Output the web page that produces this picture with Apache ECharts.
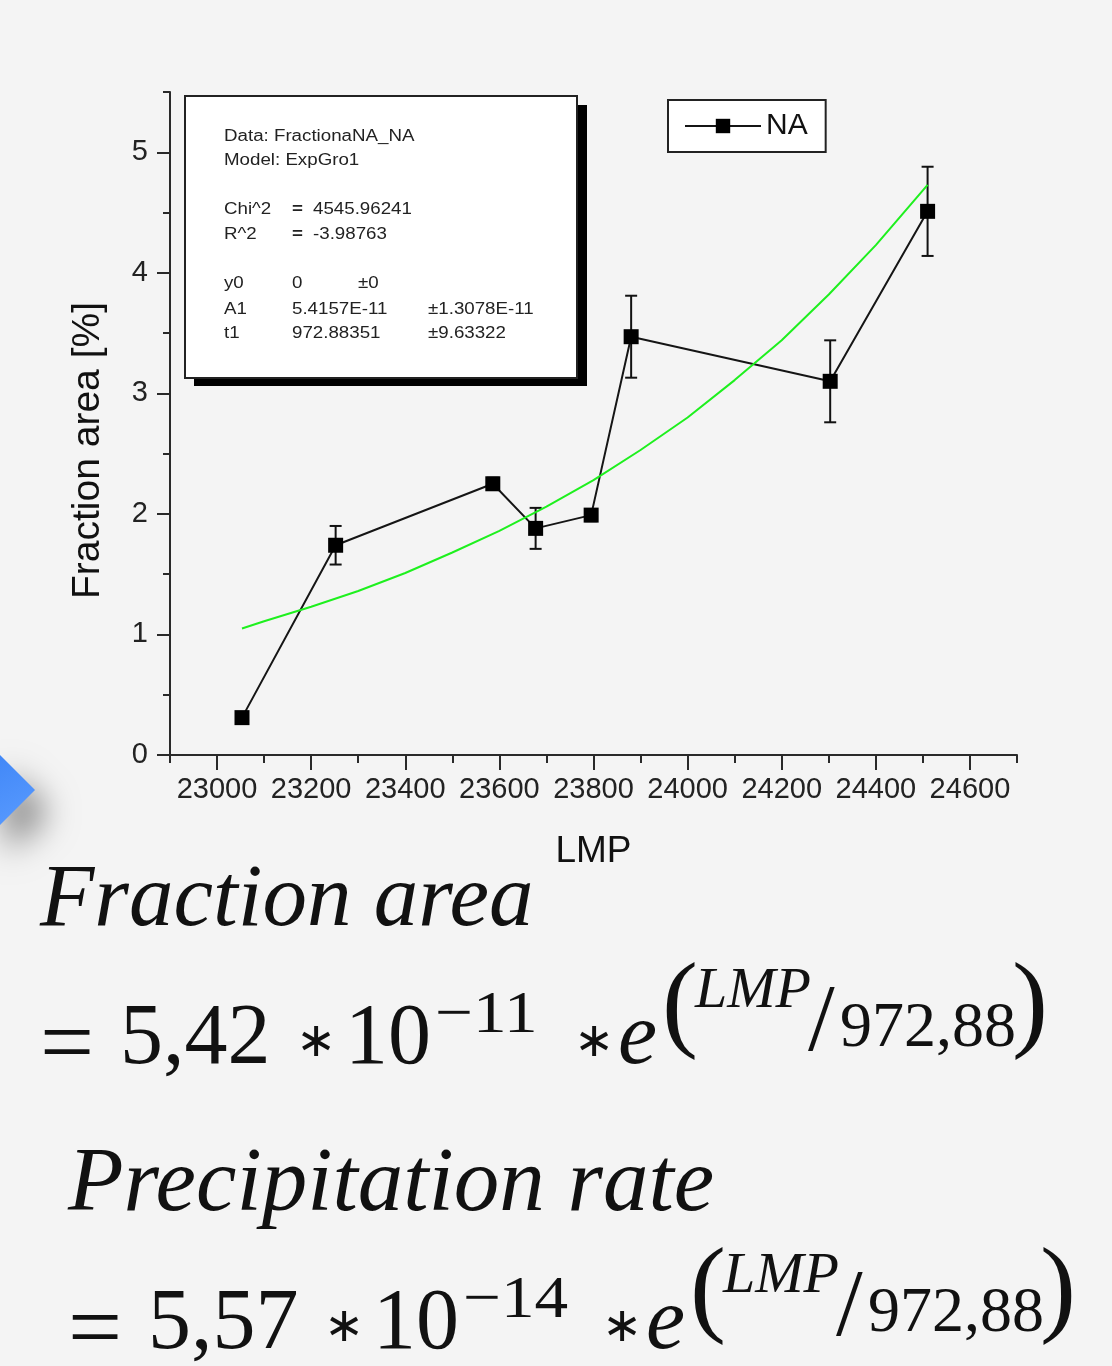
<!DOCTYPE html>
<html>
<head>
<meta charset="utf-8">
<script src="https://cdn.jsdelivr.net/npm/echarts@6/dist/echarts.min.js"></script>
<style>
  html, body { margin: 0; padding: 0; background: #f4f4f4; }
  #chart { width: 1112px; height: 1366px; }
</style>
</head>
<body>
<div id="chart"></div>
<script>
// ---- data ----
const lmp = [23053, 23252, 23586, 23677, 23795, 23880, 24303, 24510];
const fractionArea = [0.31, 1.74, 2.25, 1.88, 1.99, 3.47, 3.10, 4.51];
const fractionErr = [0.04, 0.16, 0.05, 0.17, 0.05, 0.34, 0.34, 0.37];
// green fitted curve
const fitLmp = [23053, 23100, 23200, 23300, 23400, 23500, 23600, 23700, 23800, 23900, 24000, 24100, 24200, 24300, 24400, 24510];
const fitFraction = [1.05, 1.11, 1.23, 1.36, 1.51, 1.68, 1.86, 2.06, 2.28, 2.53, 2.80, 3.11, 3.44, 3.82, 4.23, 4.73];
const xTickLabels = [23000, 23200, 23400, 23600, 23800, 24000, 24200, 24400, 24600];
const yTickLabels = [0, 1, 2, 3, 4, 5];
const seriesName = 'NA';
const fitInfoRows = [
  ['Data: FractionaNA_NA'],
  ['Model: ExpGro1'],
  null,
  ['Chi^2', '=', '4545.96241'],
  ['R^2', '=', '-3.98763'],
  null,
  ['y0', '0', '', '±0'],
  ['A1', '5.4157E-11', '', '', '±1.3078E-11'],
  ['t1', '972.88351', '', '', '±9.63322']
];
const formula1 = { title: 'Fraction area', coef: '5,42', exp: '−11', div: '972,88' };
const formula2 = { title: 'Precipitation rate', coef: '5,57', exp: '−14', div: '972,88' };

const mainData = lmp.map((x, i) => [x, fractionArea[i]]);
const errData = lmp.map((x, i) => [x, fractionArea[i] - fractionErr[i], fractionArea[i] + fractionErr[i]]);
const fitData = fitLmp.map((x, i) => [x, fitFraction[i]]);

const chart = echarts.init(document.getElementById('chart'));
const axisColor = '#2a2a2a';
const sans = '"Liberation Sans", Arial, sans-serif';
const serif = '"Liberation Serif", "Times New Roman", serif';

// ---- graphic decorations (text box, formulas, arrow) ----
const graphics = [];
graphics.push({
  type: 'polygon', z: 1,
  shape: { points: [[-5, 750], [35, 790], [-5, 830]] },
  style: {
    fill: new echarts.graphic.LinearGradient(0, 0, 1, 1, [
      { offset: 0, color: '#3f86f7' }, { offset: 1, color: '#5b9cff' }
    ]),
    shadowBlur: 35, shadowOffsetX: 12, shadowOffsetY: 22, shadowColor: 'rgba(0,0,0,0.55)'
  }
});
graphics.push({ type: 'rect', z: 10, shape: { x: 194, y: 105, width: 393, height: 281 }, style: { fill: '#000' } });
graphics.push({ type: 'rect', z: 11, shape: { x: 185, y: 96, width: 392, height: 282 }, style: { fill: '#fff', stroke: '#222', lineWidth: 2 } });
const colX = [224, 292, 313, 358, 428];
const rowY = [137, 161, 185, 210, 235, 259, 284, 310, 334];
fitInfoRows.forEach((row, r) => {
  if (!row) return;
  row.forEach((cell, c) => {
    if (!cell) return;
    graphics.push({
      type: 'text', z: 12, x: colX[c], y: rowY[r], scaleX: 1.17,
      style: { text: cell, font: (cell === '=' ? 'bold ' : '') + '16px ' + sans, fill: '#222', align: 'left', verticalAlign: 'middle' }
    });
  });
});

function txt(t, x, baseline, size, opts) {
  opts = opts || {};
  const fam = opts.family || serif;
  return {
    type: 'text', z: 5, x: x, y: baseline - 0.32 * size,
    scaleX: opts.sx || 1, scaleY: opts.sy || 1,
    style: {
      text: t, font: (opts.italic ? 'italic ' : '') + size + 'px ' + fam,
      fill: '#111', align: 'left', verticalAlign: 'middle'
    }
  };
}
function formulaLine(f, dx, dy) {
  const B = 1068 + dy;
  const out = [];
  out.push(txt('=', 40 + dx, B + 12, 96, {}));
  out.push(txt(f.coef, 120 + dx, B, 86, {}));
  out.push(txt('∗', 296 + dx, B - 9, 48, { family: '"DejaVu Sans", sans-serif' }));
  out.push(txt('10', 345 + dx, B, 86, {}));
  out.push(txt(f.exp, 435 + dx, B - 33, 60, { sx: 1.12 }));
  out.push(txt('∗', 574 + dx, B - 9, 48, { family: '"DejaVu Sans", sans-serif' }));
  out.push(txt('e', 618 + dx, B, 88, { italic: true }));
  out.push(txt('(', 662 + dx, B - 25, 108, {}));
  out.push(txt('LMP', 695 + dx, B - 58, 58, { italic: true }));
  out.push(txt('/', 808 + dx, B - 12, 96, {}));
  out.push(txt(f.div, 840 + dx, B - 18, 64, {}));
  out.push(txt(')', 1012 + dx, B - 25, 108, {}));
  return out;
}
graphics.push(txt(formula1.title, 40, 930, 89, { italic: true }));
graphics.push.apply(graphics, formulaLine(formula1, 0, 0));
graphics.push(txt(formula2.title, 68, 1215, 91, { italic: true }));
graphics.push.apply(graphics, formulaLine(formula2, 28, 285));

const option = {
  backgroundColor: '#f4f4f4',
  animation: false,
  grid: { left: 170, top: 92, width: 847, height: 663, containLabel: false },
  legend: {
    data: [seriesName],
    left: 668, top: 100,
    padding: [11, 18, 11, 16],
    backgroundColor: '#fff',
    borderColor: '#222', borderWidth: 2, borderRadius: 0,
    itemWidth: 76, itemHeight: 18, itemGap: 6,
    textStyle: { fontFamily: sans, fontSize: 30, color: '#111' }
  },
  xAxis: [
    {
      type: 'value', min: 22900, max: 24700, interval: 100, position: 'bottom',
      axisLine: { show: true, onZero: false, lineStyle: { color: axisColor, width: 2 } },
      axisTick: { show: true, length: 8, lineStyle: { color: axisColor, width: 2 } },
      axisLabel: { show: false }, splitLine: { show: false }
    },
    {
      type: 'value', min: 22900, max: 24700, interval: 100, position: 'bottom',
      axisLine: { show: false, onZero: false },
      axisTick: { show: true, customValues: xTickLabels, length: 15, lineStyle: { color: axisColor, width: 2 } },
      axisLabel: { show: true, customValues: xTickLabels, formatter: v => String(v), fontFamily: sans, fontSize: 29, color: '#222', margin: 20 },
      splitLine: { show: false },
      name: 'LMP', nameLocation: 'middle', nameGap: 78,
      nameTextStyle: { fontFamily: sans, fontSize: 37, color: '#111' }
    }
  ],
  yAxis: [
    {
      type: 'value', min: 0, max: 5.5, interval: 0.5, position: 'left',
      axisLine: { show: true, onZero: false, lineStyle: { color: axisColor, width: 2 } },
      axisTick: { show: true, length: 7, lineStyle: { color: axisColor, width: 2 } },
      axisLabel: { show: false }, splitLine: { show: false }
    },
    {
      type: 'value', min: 0, max: 5.5, interval: 0.5, position: 'left',
      axisLine: { show: false, onZero: false },
      axisTick: { show: true, customValues: yTickLabels, length: 13, lineStyle: { color: axisColor, width: 2 } },
      axisLabel: { show: true, customValues: yTickLabels, fontFamily: sans, fontSize: 29, color: '#222', margin: 22 },
      splitLine: { show: false },
      name: 'Fraction area [%]', nameLocation: 'middle', nameGap: 62, nameRotate: 90,
      nameTextStyle: { fontFamily: sans, fontSize: 39, color: '#111', padding: [0, 54, 0, 0] }
    }
  ],
  series: [
    {
      type: 'custom', name: 'err', xAxisIndex: 0, yAxisIndex: 0, z: 2,
      data: errData,
      encode: { x: 0, y: [1, 2] },
      renderItem: function (params, api) {
        const x = api.value(0), lo = api.value(1), hi = api.value(2);
        const top = api.coord([x, hi]), bot = api.coord([x, lo]);
        const w = 6;
        const st = { stroke: '#111', lineWidth: 2 };
        return {
          type: 'group', children: [
            { type: 'line', shape: { x1: top[0], y1: top[1], x2: bot[0], y2: bot[1] }, style: st },
            { type: 'line', shape: { x1: top[0] - w, y1: top[1], x2: top[0] + w, y2: top[1] }, style: st },
            { type: 'line', shape: { x1: bot[0] - w, y1: bot[1], x2: bot[0] + w, y2: bot[1] }, style: st }
          ]
        };
      }
    },
    {
      type: 'line', name: seriesName, xAxisIndex: 0, yAxisIndex: 0, z: 3,
      data: mainData,
      symbol: 'rect', symbolSize: 15,
      itemStyle: { color: '#000' },
      lineStyle: { color: '#151515', width: 2 }
    },
    {
      type: 'line', name: 'fit', xAxisIndex: 0, yAxisIndex: 0, z: 4,
      data: fitData, smooth: false,
      showSymbol: false, symbol: 'none',
      lineStyle: { color: '#1ef01e', width: 2 }
    }
  ],
  graphic: graphics
};
chart.setOption(option);
</script>
</body>
</html>
